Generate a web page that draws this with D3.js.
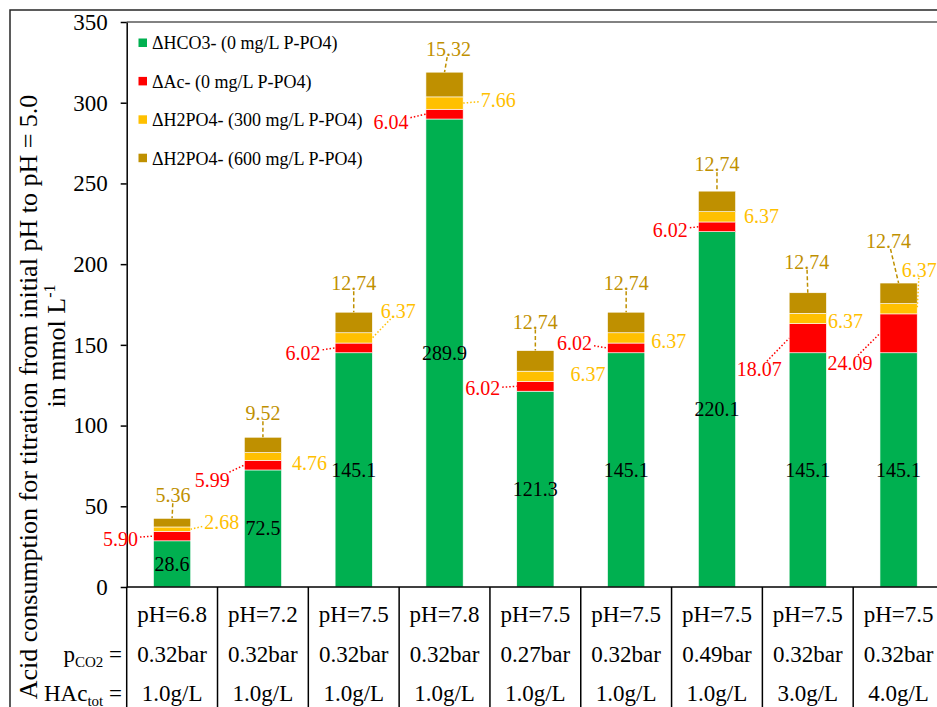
<!DOCTYPE html>
<html>
<head>
<meta charset="utf-8">
<script src="https://cdn.jsdelivr.net/npm/d3@7"></script>
<style>
  body { margin: 0; background: #ffffff; }
  svg { display: block; }
</style>
</head>
<body>
<svg id="chart" width="937" height="707"></svg>
<script>
// ---- data -------------------------------------------------------------
const phLabels   = ["pH=6.8", "pH=7.2", "pH=7.5", "pH=7.8", "pH=7.5", "pH=7.5", "pH=7.5", "pH=7.5", "pH=7.5"];
const pco2Labels = ["0.32bar", "0.32bar", "0.32bar", "0.32bar", "0.27bar", "0.32bar", "0.49bar", "0.32bar", "0.32bar"];
const hacLabels  = ["1.0g/L", "1.0g/L", "1.0g/L", "1.0g/L", "1.0g/L", "1.0g/L", "1.0g/L", "3.0g/L", "4.0g/L"];

const hco3      = [28.6, 72.5, 145.1, 289.9, 121.3, 145.1, 220.1, 145.1, 145.1];
const acetate   = [5.90, 5.99, 6.02, 6.04, 6.02, 6.02, 6.02, 18.07, 24.09];
const h2po4_300 = [2.68, 4.76, 6.37, 7.66, 6.37, 6.37, 6.37, 6.37, 6.37];
const h2po4_600 = [5.36, 9.52, 12.74, 15.32, 12.74, 12.74, 12.74, 12.74, 12.74];

const seriesNames = [
  "\u0394HCO3- (0 mg/L P-PO4)",
  "\u0394Ac- (0 mg/L P-PO4)",
  "\u0394H2PO4- (300 mg/L P-PO4)",
  "\u0394H2PO4- (600 mg/L P-PO4)"
];
const yTicks = [0, 50, 100, 150, 200, 250, 300, 350];

// ---- styling / layout -------------------------------------------------
const FONT = '"Liberation Serif", "Times New Roman", serif';
const keys   = ["hco3", "ac", "p300", "p600"];
const colors = { hco3: "#00B050", ac: "#FF0000", p300: "#FFC000", p600: "#BF9000" };
const labelColors = { hco3: "#000000", ac: "#FF0000", p300: "#FFC000", p600: "#BF9000" };

// label nudges (px) relative to the segment edge they describe
const nudge = {
  ac:   [[-33, 2.5], [-32, 15], [-32, 5], [-35, 8], [-34, 2], [-33, -5], [-28, 3], [-30, 31], [-30, 30]],
  p300: [[31, -7], [28, 6.5], [26, -27], [35, -3], [34, -2], [24, 3], [26, -1], [19, 3], [2, -39]],
  p600: [[1, -23], [0, -24], [0, -29], [4, -23], [0, -29], [0, -29], [0, -27], [-1, -31], [-10, -42]]
};
const leader = {
  ac:   [1, 1, 1, 1, 1, 1, 1, 1, 1],
  p300: [1, 0, 1, 1, 0, 0, 0, 0, 1],
  p600: [1, 1, 1, 1, 1, 1, 1, 1, 1]
};
const leaderDash = { ac: "1.5,2", p300: "1.5,2", p600: "4,2.5" };

const W = 937, H = 707;
const plot = { left: 126.7, right: 944, top: 22, bottom: 587 };

const svg = d3.select("#chart").style("font-family", FONT);

const rows = hco3.map((v, i) => ({
  i, hco3: v, ac: acetate[i], p300: h2po4_300[i], p600: h2po4_600[i]
}));

const x = d3.scaleBand()
  .domain(d3.range(rows.length))
  .range([plot.left, plot.right])
  .paddingInner(0.59)
  .paddingOuter(0.295);

const y = d3.scaleLinear().domain([0, 350]).range([plot.bottom, plot.top]);

const stacked = d3.stack().keys(keys)(rows);

// outer frame
svg.append("path")
  .attr("d", `M10,${H} L10,10 L${W},10`)
  .attr("fill", "none").attr("stroke", "#262626").attr("stroke-width", 1.5);

// plot-area top border
svg.append("line")
  .attr("x1", plot.left).attr("x2", W).attr("y1", plot.top).attr("y2", plot.top)
  .attr("stroke", "#595959").attr("stroke-width", 1.5);

// bars
const layer = svg.append("g").selectAll("g").data(stacked).join("g")
  .attr("fill", d => colors[d.key]);
layer.selectAll("rect").data(d => d).join("rect")
  .attr("x", d => x(d.data.i))
  .attr("width", x.bandwidth())
  .attr("y", d => y(d[1]))
  .attr("height", d => y(d[0]) - y(d[1]))
  .attr("stroke", "#ffffff").attr("stroke-width", 0.6);

// y axis
const yAxis = d3.axisLeft(y).tickValues(yTicks).tickSize(6).tickSizeOuter(0).tickPadding(13);
const gy = svg.append("g").attr("transform", `translate(${plot.left},0)`).call(yAxis)
  .attr("font-family", null).attr("font-size", null);
gy.select(".domain").attr("stroke", "#000").attr("stroke-width", 1.5);
gy.selectAll(".tick line").attr("stroke", "#000").attr("stroke-width", 1.5);
gy.selectAll(".tick text").attr("font-size", 23).attr("fill", "#000");

// x axis baseline and table grid
svg.append("line")
  .attr("x1", plot.left).attr("x2", W).attr("y1", plot.bottom).attr("y2", plot.bottom)
  .attr("stroke", "#000").attr("stroke-width", 1.5);
const step = x.step();
svg.append("g").selectAll("line").data(d3.range(rows.length + 1)).join("line")
  .attr("x1", i => plot.left + i * step).attr("x2", i => plot.left + i * step)
  .attr("y1", plot.bottom).attr("y2", H)
  .attr("stroke", "#000").attr("stroke-width", 1.5);

// table text
const cx = i => x(i) + x.bandwidth() / 2;
const tableRows = [
  { labels: phLabels, base: 622 },
  { labels: pco2Labels, base: 662 },
  { labels: hacLabels, base: 701 }
];
tableRows.forEach(r => {
  svg.append("g").selectAll("text").data(r.labels).join("text")
    .attr("x", (d, i) => cx(i)).attr("y", r.base)
    .attr("text-anchor", "middle").attr("font-size", 23).attr("fill", "#000")
    .text(d => d);
});
// row headers
const pHead = svg.append("text").attr("x", 122).attr("y", 662)
  .attr("text-anchor", "end").attr("font-size", 23).attr("fill", "#000");
pHead.append("tspan").text("p");
pHead.append("tspan").attr("font-size", 15).attr("dy", 5).text("CO2");
pHead.append("tspan").attr("dy", -5).text(" =");
const hHead = svg.append("text").attr("x", 122).attr("y", 701)
  .attr("text-anchor", "end").attr("font-size", 23).attr("fill", "#000");
hHead.append("tspan").text("HAc");
hHead.append("tspan").attr("font-size", 15).attr("dy", 5).text("tot");
hHead.append("tspan").attr("dy", -5).text(" =");

// y axis title
svg.append("text")
  .attr("transform", "translate(28,397) rotate(-90)")
  .attr("text-anchor", "middle").attr("dy", "0.35em")
  .attr("font-size", 26).attr("fill", "#000")
  .text("Acid consumption for titration from initial pH to pH = 5.0");
const t2 = svg.append("text")
  .attr("transform", "translate(56,346) rotate(-90)")
  .attr("text-anchor", "middle").attr("dy", "0.35em")
  .attr("font-size", 26).attr("fill", "#000");
t2.append("tspan").text("in mmol L");
t2.append("tspan").attr("font-size", 16).attr("dy", -10).text("-1");

// legend
const legend = svg.append("g");
seriesNames.forEach((name, k) => {
  const ly = 43 + k * 38.4;
  legend.append("rect").attr("x", 138.5).attr("y", ly - 4.5).attr("width", 8.5).attr("height", 8.5)
    .attr("fill", colors[keys[k]]);
  legend.append("text").attr("x", 152).attr("y", ly).attr("dy", "0.35em")
    .attr("font-size", 18).attr("fill", "#000").text(name);
});

// data labels
const fmt1 = d3.format(".1f"), fmt2 = d3.format(".2f");
const labels = svg.append("g");

// inner labels for the bicarbonate segment
labels.selectAll("text.inner").data(stacked[0]).join("text")
  .attr("class", "inner")
  .attr("x", d => cx(d.data.i))
  .attr("y", d => (y(d[0]) + y(d[1])) / 2)
  .attr("dy", "0.35em").attr("text-anchor", "middle")
  .attr("font-size", 20).attr("fill", labelColors.hco3)
  .text(d => fmt1(d.data.hco3));

function anchorOf(key, seg) {
  const i = seg.data.i;
  const mid = (y(seg[0]) + y(seg[1])) / 2;
  if (key === "ac") return [x(i), mid];
  if (key === "p300") return [x(i) + x.bandwidth(), mid];
  return [cx(i), y(seg[1])];
}

["ac", "p300", "p600"].forEach(key => {
  const series = stacked.find(s => s.key === key);
  series.forEach(seg => {
    const i = seg.data.i;
    const [ax, ay] = anchorOf(key, seg);
    const lx = ax + nudge[key][i][0], ly = ay + nudge[key][i][1];
    const t = labels.append("text")
      .attr("x", lx).attr("y", ly).attr("dy", "0.35em")
      .attr("text-anchor", "middle").attr("font-size", 20)
      .attr("fill", labelColors[key])
      .style("font-family", FONT)
      .text(fmt2(seg.data[key]));
    if (!leader[key][i]) return;
    const hw = t.node().getComputedTextLength() / 2 + 2, hh = 8;
    const dx = ax - lx, dy = ay - ly;
    const s = Math.min(dx !== 0 ? hw / Math.abs(dx) : Infinity, dy !== 0 ? hh / Math.abs(dy) : Infinity);
    const sx = lx + dx * s, sy = ly + dy * s;
    labels.append("line")
      .attr("x1", sx).attr("y1", sy).attr("x2", ax).attr("y2", ay)
      .attr("stroke", colors[key]).attr("stroke-width", 1.5)
      .attr("stroke-dasharray", leaderDash[key]);
  });
});

svg.selectAll("text").style("font-family", FONT);
</script>
</body>
</html>
